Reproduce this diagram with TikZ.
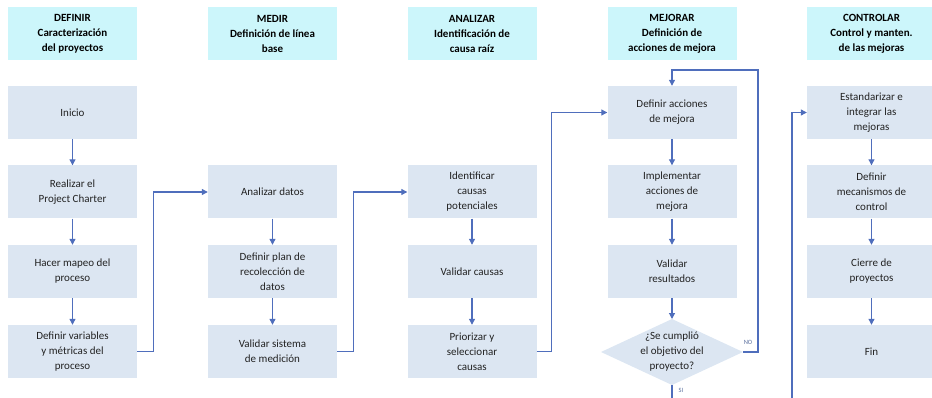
\documentclass[tikz,border=0pt]{standalone}
\usepackage{fontspec}
\setmainfont{Carlito}
\usetikzlibrary{arrows.meta}
\definecolor{boxfill}{HTML}{DCE6F2}
\definecolor{headfill}{HTML}{CCF6FB}
\definecolor{linecol}{HTML}{4F6EBC}
\definecolor{txtcol}{HTML}{222222}
\definecolor{lblcol}{HTML}{5A6F9E}
\tikzset{
  procbox/.style={fill=boxfill, minimum width=129pt, minimum height=53pt, inner sep=0pt,
    align=center, text=txtcol, font=\fontsize{11}{15}\selectfont},
  headbox/.style={fill=headfill, minimum width=129pt, minimum height=53pt, inner sep=0pt,
    align=center, text=black, font=\fontsize{11}{15}\selectfont\bfseries},
  qtext/.style={align=center, inner sep=0pt, text=txtcol, font=\fontsize{11}{15}\selectfont},
  lbl/.style={text=lblcol, font=\fontsize{6.5}{7}\selectfont, inner sep=0pt},
  arr/.style={draw=linecol, line width=1.1pt, -{Triangle[width=6pt,length=6pt]}},
  ln/.style={draw=linecol, line width=1.1pt}
}
\begin{document}
\begin{tikzpicture}[x=1pt,y=-1pt]
\useasboundingbox (0,0) rectangle (932,398);
\begin{scope}
\clip (0,0) rectangle (932,398);
% headers
\node[headbox] (h1) at (72.5,33.5) {DEFINIR\\Caracterización\\del proyectos};
\node[headbox] (h2) at (272.5,33.5) {MEDIR\\Definición de línea\\base};
\node[headbox] (h3) at (472,33.5) {ANALIZAR\\Identificación de\\causa raíz};
\node[headbox] (h4) at (672,33.5) {MEJORAR\\Definición de\\acciones de mejora};
\node[headbox] (h5) at (871.5,33.5) {CONTROLAR\\Control y manten.\\de las mejoras};
% DEFINIR
\node[procbox] (d1) at (72.5,112.5) {Inicio};
\node[procbox] (d2) at (72.5,192) {Realizar el\\Project Charter};
\node[procbox] (d3) at (72.5,271.5) {Hacer mapeo del\\proceso};
\node[procbox] (d4) at (72.5,351.5) {Definir variables\\y métricas del\\proceso};
% MEDIR
\node[procbox] (m1) at (272.5,192) {Analizar datos};
\node[procbox] (m2) at (272.5,271.5) {Definir plan de\\recolección de\\datos};
\node[procbox] (m3) at (272.5,351.5) {Validar sistema\\de medición};
% ANALIZAR
\node[procbox] (a1) at (472,192) {Identificar\\causas\\potenciales};
\node[procbox] (a2) at (472,271.5) {Validar causas};
\node[procbox] (a3) at (472,351.5) {Priorizar y\\seleccionar\\causas};
% MEJORAR
\node[procbox] (j1) at (672,112.5) {Definir acciones\\de mejora};
\node[procbox] (j2) at (672,192) {Implementar\\acciones de\\mejora};
\node[procbox] (j3) at (672,271.5) {Validar\\resultados};
\coordinate (qc) at (672,352);
\fill[boxfill] (qc) +(-71,0) -- +(0,-33) -- +(71,0) -- +(0,33) -- cycle;
\node[qtext] (q) at (qc) {¿Se cumplió\\el objetivo del\\proyecto?};
\coordinate (qN) at (672,319);
\coordinate (qE) at (743,352);
\coordinate (qS) at (672,385);
% CONTROLAR
\node[procbox] (c1) at (871.5,112.5) {Estandarizar e\\integrar las\\mejoras};
\node[procbox] (c2) at (871.5,192) {Definir\\mecanismos de\\control};
\node[procbox] (c3) at (871.5,271.5) {Cierre de\\proyectos};
\node[procbox] (c4) at (871.5,351.5) {Fin};
% vertical arrows
\draw[arr] (d1.south) -- (d2.north);
\draw[arr] (d2.south) -- (d3.north);
\draw[arr] (d3.south) -- (d4.north);
\draw[arr] (m1.south) -- (m2.north);
\draw[arr] (m2.south) -- (m3.north);
\draw[arr] (a1.south) -- (a2.north);
\draw[arr] (a2.south) -- (a3.north);
\draw[arr] (j1.south) -- (j2.north);
\draw[arr] (j2.south) -- (j3.north);
\draw[arr] (j3.south) -- (qN);
\draw[arr] (c1.south) -- (c2.north);
\draw[arr] (c2.south) -- (c3.north);
\draw[arr] (c3.south) -- (c4.north);
% cross-column connectors
\draw[arr] (d4.east) -- ++(16,0) |- (m1.west);
\draw[arr] (m3.east) -- ++(16,0) |- (a1.west);
\draw[arr] (a3.east) -- ++(15,0) |- (j1.west);
\draw[arr] (qE) -- ++(15,0) -- ++(0,-282) -| (j1.north);
\node[lbl] (no) at (748,342) {NO};
\coordinate (siend) at (672,402);
\draw[ln] (qS) -- (siend);
\node[lbl] (si) at (681,390) {SI};
\coordinate (cin) at (792,402);
\draw[arr] (cin) |- (c1.west);
\end{scope}
\end{tikzpicture}
\end{document}
